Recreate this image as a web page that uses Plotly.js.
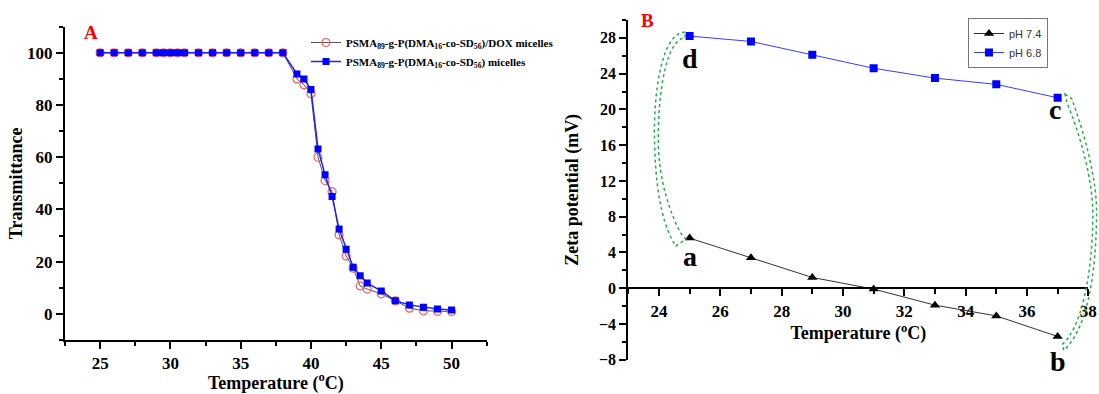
<!DOCTYPE html>
<html>
<head>
<meta charset="utf-8">
<script src="https://cdn.plot.ly/plotly-3.0.1.min.js"></script>
<style>html,body{margin:0;padding:0;background:#fff;}#chart{width:1099px;height:394px;}</style>
</head>
<body>
<div id="chart"></div>
<script>
// ---------- Panel A data ----------
const tempA = [25,26,27,28,29,29.5,30,30.5,31,32,33,34,35,36,37,38,39,39.5,40,40.5,41,41.5,42,42.5,43,43.5,44,45,46,47,48,49,50];
const transDOX = [100,100,100,100,100,100,100,100,100,100,100,100,100,100,100,100,90,87.8,84.3,60,51.1,46.8,30.3,22.2,17.5,10.7,9.5,7.7,5.0,2.2,1.2,1.0,0.9];
const transBlank = [100,100,100,100,100,100,100,100,100,100,100,100,100,100,100,100,91.9,90,85.9,63.2,53.3,45,32.5,24.8,17.9,14.6,11.8,8.8,5.0,3.45,2.55,1.9,1.5];
const nameDOX = 'PSMA<sub>89</sub>-g-P(DMA<sub>16</sub>-co-SD<sub>56</sub>)/DOX micelles';
const nameBlank = 'PSMA<sub>89</sub>-g-P(DMA<sub>16</sub>-co-SD<sub>56</sub>) micelles';

// ---------- Panel B data ----------
const tempB = [25,27,29,31,33,35,37];
const zetaPH74 = [5.6,3.4,1.2,-0.1,-1.9,-3.1,-5.4];
const zetaPH68 = [28.2,27.6,26.1,24.6,23.5,22.8,21.3];
const nameB = ['pH 7.4','pH 6.8'];
const pointLabels = ['a','b','c','d'];

const serif = 'Liberation Serif, Times New Roman, serif';
const sans = 'Liberation Sans, Arial, sans-serif';

const W = 1099, H = 394;
const xA = [65/W, 486.7/W], yA = [1-340/H, 1-26.7/H];
const xB = [628.3/W, 1088.3/W], yB = [1-359.7/H, 1-20/H];
const xRangeB = [23, 38];
const yRangeB = [-8, 30];
const zeroPos = yB[0] + (0 - yRangeB[0])/(yRangeB[1]-yRangeB[0])*(yB[1]-yB[0]);

// map panel-B data coordinates to paper fractions (so decorations outside the plot are not clipped)
const px2 = (x)=> xB[0] + (x - xRangeB[0])/(xRangeB[1]-xRangeB[0])*(xB[1]-xB[0]);
const py2 = (y)=> yB[0] + (y - yRangeB[0])/(yRangeB[1]-yRangeB[0])*(yB[1]-yB[0]);
function pathFrom(cmds){
  return cmds.map(c => c[0] + ' ' + c.slice(1).map(p => px2(p[0]).toFixed(5)+','+py2(p[1]).toFixed(5)).join(' ')).join(' ') + ' Z';
}
// hand-drawn green loops (decoration)
const loopLeft = [
  ['M',[24.85,28.65]],
  ['C',[24.1,28.6],[23.8,22],[23.86,16]],
  ['C',[23.9,10],[24.2,6.5],[24.55,4.7]],
  ['L',[24.88,5.5]],
  ['L',[24.72,6.1]],
  ['C',[24.4,8],[24.0,12],[23.98,16]],
  ['C',[23.95,22],[24.25,27.9],[24.85,28.0]]
];
const loopRight = [
  ['M',[37.24,21.7]],
  ['L',[37.46,21.2]],
  ['C',[37.9,17],[38.3,12],[38.27,8]],
  ['C',[38.25,2],[38.0,-4.5],[37.2,-6.95]],
  ['L',[37.15,-6.3]],
  ['C',[37.75,-4.5],[38.12,1],[38.15,8]],
  ['C',[38.15,12],[37.8,16.5],[37.3,20.8]]
];

const tickFont = (s)=>({family: serif, size: s, color: '#000', weight: 'bold'});
const titleFont = {family: serif, size: 18, color: '#000', weight: 'bold'};
const labelFont = {family: serif, size: 28, color: '#000', weight: 'bold'};

const traces = [
  {x: tempA, y: transDOX, name: nameDOX, type: 'scatter', mode: 'lines+markers', xaxis: 'x', yaxis: 'y', legend: 'legend',
   line: {color: '#555555', width: 1}, marker: {symbol: 'circle-open', size: 8, color: '#ff5a5a', line: {width: 1.2, color: '#ff5a5a'}}},
  {x: tempA, y: transBlank, name: nameBlank, type: 'scatter', mode: 'lines+markers', xaxis: 'x', yaxis: 'y', legend: 'legend',
   line: {color: '#2020ff', width: 1.5}, marker: {symbol: 'square', size: 7, color: '#0000ff'}},
  {x: tempB, y: zetaPH74, name: nameB[0], type: 'scatter', mode: 'lines+markers', xaxis: 'x2', yaxis: 'y2', legend: 'legend2',
   line: {color: '#333333', width: 1}, marker: {symbol: 'triangle-up', size: 9, color: '#000000'}},
  {x: tempB, y: zetaPH68, name: nameB[1], type: 'scatter', mode: 'lines+markers', xaxis: 'x2', yaxis: 'y2', legend: 'legend2',
   line: {color: '#3a3aff', width: 1}, marker: {symbol: 'square', size: 8, color: '#0000ff'}}
];

const axisCommon = {showline: true, linecolor: '#000', linewidth: 2, ticks: 'outside', ticklen: 7, tickwidth: 2, tickcolor: '#000',
  showgrid: false, zeroline: false, mirror: false};

const labelAnn = (txt, x, y)=>({text: txt, xref: 'paper', yref: 'paper', x: px2(x), y: py2(y), xanchor: 'center', yanchor: 'middle', showarrow: false, font: labelFont});

const layout = {
  width: W, height: H,
  margin: {l: 0, r: 0, t: 0, b: 0},
  paper_bgcolor: '#fff', plot_bgcolor: 'rgba(0,0,0,0)',
  showlegend: true,
  xaxis: Object.assign({}, axisCommon, {domain: xA, anchor: 'y', range: [22.5, 52.5], tick0: 25, dtick: 5,
    minor: {dtick: 2.5, ticklen: 4, tickwidth: 2, tickcolor: '#000', ticks: 'outside'},
    tickfont: tickFont(17), title: {text: 'Temperature (<sup>o</sup>C)', font: titleFont, standoff: 4}}),
  yaxis: Object.assign({}, axisCommon, {domain: yA, anchor: 'x', range: [-10, 110], tick0: 0, dtick: 20,
    minor: {dtick: 10, ticklen: 4, tickwidth: 2, tickcolor: '#000', ticks: 'outside'},
    tickfont: tickFont(17), title: {text: 'Transmittance', font: titleFont, standoff: 0}}),
  xaxis2: Object.assign({}, axisCommon, {domain: xB, anchor: 'free', position: zeroPos, range: xRangeB, tick0: 24, dtick: 2,
    minor: {dtick: 1, ticklen: 5, tickwidth: 2, tickcolor: '#000', ticks: 'outside'},
    tickfont: tickFont(17), title: {text: 'Temperature (<sup>o</sup>C)', font: titleFont, standoff: 4}}),
  yaxis2: Object.assign({}, axisCommon, {domain: yB, anchor: 'x2', range: yRangeB, tick0: 0, dtick: 4,
    minor: {dtick: 2, ticklen: 4, tickwidth: 2, tickcolor: '#000', ticks: 'outside'},
    tickfont: tickFont(16), title: {text: 'Zeta potential (mV)', font: titleFont, standoff: 16}}),
  legend: {x: 306/W, y: 1-28/H, xanchor: 'left', yanchor: 'top', bgcolor: 'rgba(0,0,0,0)', borderwidth: 0,
    font: {family: serif, size: 11, color: '#000', weight: 'bold'}, tracegroupgap: 0},
  legend2: {x: 968/W, y: 1-18/H, xanchor: 'left', yanchor: 'top', bgcolor: '#fff', bordercolor: '#777', borderwidth: 1,
    font: {family: sans, size: 11, color: '#333'}, tracegroupgap: 0},
  annotations: [
    {text: 'A', xref: 'paper', yref: 'paper', x: 90.5/W, y: 1-33/H, xanchor: 'center', yanchor: 'middle', showarrow: false, font: {family: serif, size: 19, color: '#ff0000', weight: 'bold'}},
    {text: 'B', xref: 'paper', yref: 'paper', x: 647/W, y: 1-21/H, xanchor: 'center', yanchor: 'middle', showarrow: false, font: {family: serif, size: 19, color: '#ff0000', weight: 'bold'}},
    labelAnn(pointLabels[0], tempB[0], 3.5),
    labelAnn(pointLabels[1], tempB[6], -8.25),
    labelAnn(pointLabels[2], 36.9, 20.0),
    labelAnn(pointLabels[3], tempB[0], 25.7)
  ],
  shapes: [
    {type: 'path', xref: 'paper', yref: 'paper', layer: 'above', path: pathFrom(loopLeft),
     line: {color: '#2aae4a', width: 1.5, dash: 'dot'}},
    {type: 'path', xref: 'paper', yref: 'paper', layer: 'above', path: pathFrom(loopRight),
     line: {color: '#2aae4a', width: 1.5, dash: 'dot'}}
  ]
};

Plotly.newPlot('chart', traces, layout, {staticPlot: true, displayModeBar: false});
</script>
</body>
</html>
